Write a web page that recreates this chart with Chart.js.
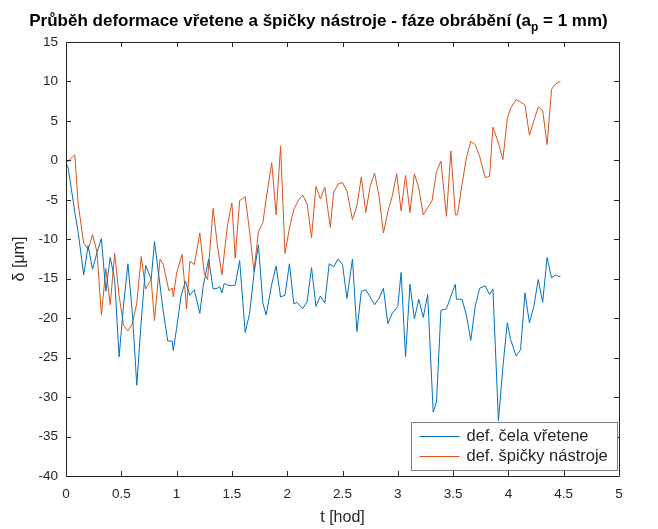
<!DOCTYPE html>
<html>
<head>
<meta charset="utf-8">
<script src="https://cdn.jsdelivr.net/npm/chart.js@4/dist/chart.umd.min.js"></script>
<style>
  html, body { margin: 0; padding: 0; background: #fff; }
  canvas { display: block; }
</style>
</head>
<body>
<canvas id="chart" width="658" height="529"></canvas>
<script>
// values
const timeSpindle = [0,0.02,0.08,0.11,0.16,0.2,0.24,0.28,0.32,0.36,0.4,0.44,0.48,0.52,0.56,0.6,0.64,0.68,0.72,0.77,
  0.8,0.84,0.88,0.92,0.96,0.97,1,1.04,1.08,1.12,1.16,1.21,1.24,1.29,1.33,1.37,1.39,1.41,1.43,1.46,
  1.5,1.53,1.57,1.62,1.66,1.7,1.74,1.78,1.81,1.86,1.9,1.94,1.98,2.02,2.06,2.09,2.14,2.18,2.22,2.26,
  2.3,2.34,2.38,2.42,2.46,2.5,2.54,2.59,2.63,2.67,2.71,2.75,2.79,2.83,2.87,2.91,2.95,3,3.03,3.07,
  3.11,3.15,3.19,3.23,3.27,3.32,3.35,3.39,3.44,3.47,3.52,3.53,3.58,3.62,3.66,3.7,3.74,3.79,3.83,3.86,
  3.91,3.95,3.99,4.02,4.07,4.11,4.15,4.19,4.23,4.27,4.31,4.35,4.39,4.43,4.45,4.47];
const defSpindle = [-0.3,-1.0,-6.6,-9.1,-14.5,-10.8,-13.8,-11.7,-9.9,-16.6,-12.3,-15.1,-24.9,-18.4,-13.1,-19.4,-28.5,-20.4,-13.3,-15.1,
  -10.3,-14.7,-19.2,-22.9,-22.9,-24.1,-21.3,-17.2,-15.3,-17.1,-16.4,-19.4,-16.0,-12.5,-16.3,-16.2,-16.0,-16.8,-15.6,-15.8,
  -15.9,-15.8,-12.7,-21.8,-19.4,-14.3,-10.7,-18.1,-19.6,-15.7,-13.4,-17.3,-17.1,-13.1,-18.2,-18.0,-18.8,-17.9,-13.6,-18.5,
  -17.2,-18.1,-13.1,-13.5,-12.5,-13.2,-17.5,-12.5,-21.7,-16.6,-16.4,-17.3,-18.3,-17.5,-16.2,-20.7,-19.4,-18.5,-14.2,-24.9,
  -15.7,-20.1,-17.6,-19.9,-17.0,-31.9,-30.6,-19.0,-18.8,-17.6,-15.7,-17.6,-17.6,-19.6,-22.8,-18.5,-16.2,-15.9,-17.0,-16.3,
  -33.0,-26.2,-20.6,-22.7,-24.8,-24.0,-16.8,-20.6,-18.5,-15.1,-18.0,-12.3,-14.9,-14.5,-14.7,-14.7];

const timeTool = [0,0.02,0.08,0.11,0.16,0.2,0.24,0.28,0.32,0.36,0.4,0.44,0.48,0.52,0.56,0.6,0.64,0.68,0.72,0.77,
  0.8,0.85,0.88,0.93,0.96,0.97,1,1.05,1.09,1.12,1.16,1.21,1.25,1.28,1.33,1.37,1.41,1.46,1.5,1.53,
  1.57,1.62,1.66,1.7,1.74,1.78,1.81,1.86,1.9,1.94,1.98,2.02,2.06,2.1,2.14,2.18,2.22,2.26,2.3,2.34,
  2.39,2.42,2.46,2.5,2.54,2.59,2.63,2.67,2.71,2.75,2.79,2.83,2.87,2.91,2.95,2.99,3.03,3.07,3.11,3.15,
  3.19,3.23,3.27,3.31,3.35,3.39,3.44,3.48,3.52,3.54,3.58,3.62,3.66,3.7,3.74,3.79,3.83,3.86,3.91,3.95,
  3.99,4.02,4.07,4.11,4.15,4.19,4.23,4.27,4.31,4.35,4.39,4.42,4.44,4.47];
const defTool = [-0.3,-0.1,0.7,-5.5,-10.5,-11.3,-9.4,-11.6,-19.6,-13.7,-18.3,-11.8,-17.1,-20.9,-21.6,-20.7,-18.1,-12.2,-16.3,-15.1,
  -20.3,-12.5,-13.2,-16.5,-16.2,-17.3,-14.3,-11.9,-18.8,-12.8,-13.2,-9.2,-14.3,-15.1,-6.1,-10.9,-14.5,-8.2,-5.4,-12.4,
  -5.1,-4.6,-9.0,-14.1,-9.0,-7.9,-4.9,-0.3,-6.9,1.8,-11.8,-8.6,-6.2,-5.1,-4.4,-5.5,-9.8,-3.3,-4.9,-3.4,
  -8.5,-4.1,-3.0,-2.8,-3.9,-7.5,-5.8,-2.1,-6.6,-3.3,-1.6,-4.5,-9.2,-6.5,-4.5,-1.7,-6.4,-1.9,-6.6,-1.7,
  -3.5,-6.9,-6.0,-5.1,-1.4,-0.1,-7.1,1.2,-6.9,-6.9,-3.1,0.3,2.4,2.0,0.5,-2.2,-2.0,4.2,2.2,0.1,
  5.3,6.6,7.7,7.4,7.0,3.2,5.0,6.8,6.3,2.0,9.0,9.6,9.8,10.0];

const xTicks = [0, 0.5, 1, 1.5, 2, 2.5, 3, 3.5, 4, 4.5, 5];
const yTicks = [-40, -35, -30, -25, -20, -15, -10, -5, 0, 5, 10, 15];
const seriesNames = ['def. čela vřetene', 'def. špičky nástroje'];
const seriesColors = ['#0072BD', '#D95319'];

const FONT = "'Liberation Sans', Arial, Helvetica, sans-serif";
const AXIS_COLOR = '#262626';

function points(ts, vs) {
  return ts.map((t, i) => ({ x: t, y: vs[i] }));
}

// box, inward ticks, legend and title drawn like the MATLAB figure
const matlabDecor = {
  id: 'matlabDecor',
  afterDraw(chart) {
    const ctx = chart.ctx;
    const a = chart.chartArea;
    const xs = chart.scales.x, ys = chart.scales.y;
    ctx.save();
    ctx.strokeStyle = AXIS_COLOR;
    ctx.lineWidth = 1;
    ctx.beginPath();
    ctx.rect(Math.round(a.left) + 0.5, Math.round(a.top) + 0.5,
             Math.round(a.right - a.left), Math.round(a.bottom - a.top));
    const tl = 5;
    xTicks.forEach(v => {
      const px = Math.round(xs.getPixelForValue(v)) + 0.5;
      ctx.moveTo(px, a.bottom); ctx.lineTo(px, a.bottom - tl);
      ctx.moveTo(px, a.top); ctx.lineTo(px, a.top + tl);
    });
    yTicks.forEach(v => {
      const py = Math.round(ys.getPixelForValue(v)) + 0.5;
      ctx.moveTo(a.left, py); ctx.lineTo(a.left + tl, py);
      ctx.moveTo(a.right, py); ctx.lineTo(a.right - tl, py);
    });
    ctx.stroke();

    // legend
    const lx = 411.5, ly = 422.5, lw = 206, lh = 48;
    ctx.fillStyle = '#fff';
    ctx.fillRect(lx, ly, lw, lh);
    ctx.strokeStyle = '#7f7f7f';
    ctx.strokeRect(lx, ly, lw, lh);
    ctx.font = '16.5px ' + FONT;
    ctx.textBaseline = 'middle';
    ctx.textAlign = 'left';
    seriesNames.forEach((name, i) => {
      const y = ly + 14 + i * 20;
      ctx.strokeStyle = seriesColors[i];
      ctx.beginPath();
      ctx.moveTo(lx + 8, y); ctx.lineTo(lx + 48, y);
      ctx.stroke();
      ctx.fillStyle = AXIS_COLOR;
      ctx.fillText(name, lx + 55, y);
    });

    // title with subscript
    const t1 = 'Průběh deformace vřetene a špičky nástroje - fáze obrábění (a';
    const t2 = 'p';
    const t3 = ' = 1 mm)';
    const big = 'bold 17px ' + FONT, small = 'bold 12px ' + FONT;
    ctx.fillStyle = '#000';
    ctx.textBaseline = 'alphabetic';
    ctx.font = big;
    const w1 = ctx.measureText(t1).width, w3 = ctx.measureText(t3).width;
    ctx.font = small;
    const w2 = ctx.measureText(t2).width;
    let x = 318.5 - (w1 + w2 + w3) / 2;
    const base = 26;
    ctx.font = big; ctx.fillText(t1, x, base); x += w1;
    ctx.font = small; ctx.fillText(t2, x, base + 5); x += w2;
    ctx.font = big; ctx.fillText(t3, x, base);
    ctx.restore();
  }
};

new Chart(document.getElementById('chart'), {
  type: 'line',
  data: {
    datasets: [
      { label: seriesNames[0], data: points(timeSpindle, defSpindle), borderColor: seriesColors[0],
        borderWidth: 1, pointRadius: 0, tension: 0, fill: false },
      { label: seriesNames[1], data: points(timeTool, defTool), borderColor: seriesColors[1],
        borderWidth: 1, pointRadius: 0, tension: 0, fill: false }
    ]
  },
  options: {
    responsive: false,
    animation: false,
    devicePixelRatio: 1,
    layout: { padding: { top: 42, right: 39, bottom: 0, left: 0 } },
    plugins: { legend: { display: false }, tooltip: { enabled: false } },
    scales: {
      x: {
        type: 'linear', min: 0, max: 5,
        afterBuildTicks: s => { s.ticks = xTicks.map(v => ({ value: v })); },
        afterFit: s => { s.height = 53; },
        grid: { display: false, drawTicks: false },
        border: { display: false },
        ticks: { color: AXIS_COLOR, font: { family: FONT, size: 13.5 }, padding: 10,
                 maxRotation: 0, autoSkip: false, callback: v => String(v) },
        title: { display: true, text: 't [hod]', color: AXIS_COLOR,
                 font: { family: FONT, size: 16 }, padding: { top: 0, bottom: 2 } }
      },
      y: {
        type: 'linear', min: -40, max: 15,
        afterBuildTicks: s => { s.ticks = yTicks.map(v => ({ value: v })); },
        afterFit: s => { s.width = 66; },
        grid: { display: false, drawTicks: false },
        border: { display: false },
        ticks: { color: AXIS_COLOR, font: { family: FONT, size: 13.5 }, padding: 8,
                 autoSkip: false, callback: v => String(v) },
        title: { display: true, text: 'δ [μm]', color: AXIS_COLOR,
                 font: { family: FONT, size: 16 }, padding: { top: 10, bottom: 0 } }
      }
    }
  },
  plugins: [matlabDecor]
});
</script>
</body>
</html>
